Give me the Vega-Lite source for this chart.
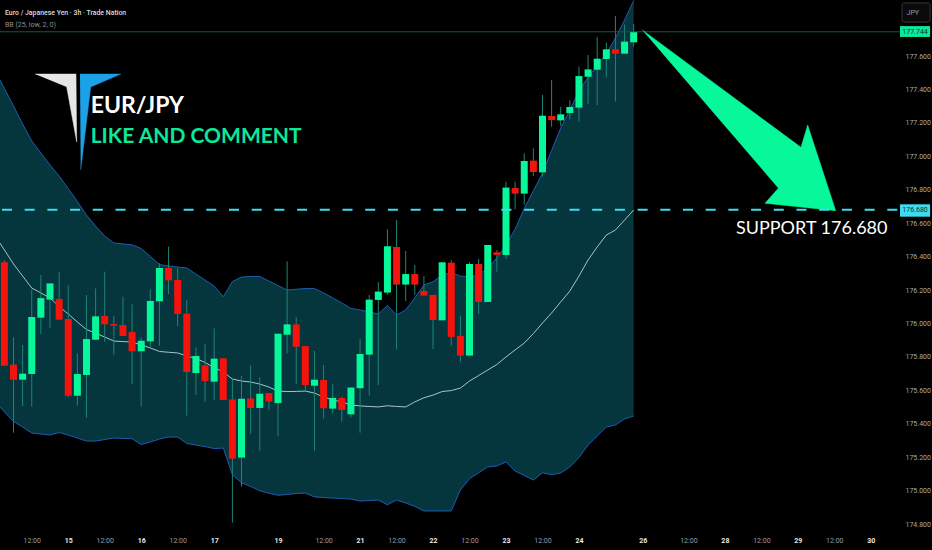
{
  "$schema": "https://vega.github.io/schema/vega-lite/v6.json",
  "description": "EUR/JPY 3h candlesticks with Bollinger bands and a support level",
  "width": 895,
  "height": 530,
  "autosize": "none",
  "padding": {"left": 0, "top": 0, "right": 37, "bottom": 20},
  "background": "#000000",
  "view": {"stroke": null},
  "config": {"font": "Roboto"},
  "datasets": {
    "candles": [
      {"i":0,"o":176.366,"h":176.380,"l":175.748,"c":175.748},
      {"i":1,"o":175.754,"h":175.917,"l":175.347,"c":175.664},
      {"i":2,"o":175.664,"h":175.871,"l":175.507,"c":175.700},
      {"i":3,"o":175.698,"h":176.204,"l":175.503,"c":176.039},
      {"i":4,"o":176.035,"h":176.290,"l":175.937,"c":176.152},
      {"i":5,"o":176.143,"h":176.240,"l":175.975,"c":176.240},
      {"i":6,"o":176.147,"h":176.310,"l":176.023,"c":176.023},
      {"i":7,"o":176.027,"h":176.226,"l":175.558,"c":175.568},
      {"i":8,"o":175.568,"h":175.822,"l":175.511,"c":175.698},
      {"i":9,"o":175.692,"h":176.170,"l":175.437,"c":175.907},
      {"i":10,"o":175.903,"h":176.210,"l":175.901,"c":176.043},
      {"i":11,"o":176.045,"h":176.310,"l":175.891,"c":175.995},
      {"i":12,"o":175.997,"h":176.045,"l":175.814,"c":175.987},
      {"i":13,"o":175.991,"h":176.160,"l":175.925,"c":175.925},
      {"i":14,"o":175.949,"h":176.115,"l":175.638,"c":175.834},
      {"i":15,"o":175.834,"h":175.917,"l":175.503,"c":175.897},
      {"i":16,"o":175.893,"h":176.204,"l":175.861,"c":176.135},
      {"i":17,"o":176.133,"h":176.360,"l":175.867,"c":176.332},
      {"i":18,"o":176.332,"h":176.460,"l":176.176,"c":176.258},
      {"i":19,"o":176.260,"h":176.330,"l":175.985,"c":176.057},
      {"i":20,"o":176.059,"h":176.141,"l":175.449,"c":175.710},
      {"i":21,"o":175.704,"h":175.857,"l":175.572,"c":175.806},
      {"i":22,"o":175.750,"h":175.877,"l":175.532,"c":175.656},
      {"i":23,"o":175.652,"h":175.971,"l":175.542,"c":175.790},
      {"i":24,"o":175.792,"h":175.792,"l":175.542,"c":175.542},
      {"i":25,"o":175.546,"h":175.662,"l":174.809,"c":175.192},
      {"i":26,"o":175.198,"h":175.686,"l":175.024,"c":175.550},
      {"i":27,"o":175.552,"h":175.748,"l":175.339,"c":175.495},
      {"i":28,"o":175.495,"h":175.678,"l":175.239,"c":175.580},
      {"i":29,"o":175.584,"h":175.584,"l":175.483,"c":175.534},
      {"i":30,"o":175.524,"h":175.939,"l":175.327,"c":175.939},
      {"i":31,"o":175.933,"h":176.372,"l":175.822,"c":175.995},
      {"i":32,"o":175.995,"h":176.037,"l":175.638,"c":175.861},
      {"i":33,"o":175.865,"h":175.865,"l":175.602,"c":175.632},
      {"i":34,"o":175.628,"h":175.835,"l":175.239,"c":175.664},
      {"i":35,"o":175.662,"h":175.752,"l":175.433,"c":175.493},
      {"i":36,"o":175.491,"h":175.639,"l":175.463,"c":175.555},
      {"i":37,"o":175.555,"h":175.563,"l":175.413,"c":175.483},
      {"i":38,"o":175.457,"h":175.617,"l":175.439,"c":175.617},
      {"i":39,"o":175.613,"h":175.906,"l":175.347,"c":175.818},
      {"i":40,"o":175.814,"h":176.171,"l":175.569,"c":176.143},
      {"i":41,"o":176.141,"h":176.247,"l":175.633,"c":176.191},
      {"i":42,"o":176.185,"h":176.564,"l":176.171,"c":176.462},
      {"i":43,"o":176.458,"h":176.619,"l":175.846,"c":176.233},
      {"i":44,"o":176.233,"h":176.434,"l":176.135,"c":176.296},
      {"i":45,"o":176.296,"h":176.350,"l":176.171,"c":176.233},
      {"i":46,"o":176.195,"h":176.284,"l":176.167,"c":176.167},
      {"i":47,"o":176.171,"h":176.171,"l":175.848,"c":176.021},
      {"i":48,"o":176.019,"h":176.366,"l":176.019,"c":176.366},
      {"i":49,"o":176.364,"h":176.380,"l":175.866,"c":175.920},
      {"i":50,"o":175.926,"h":176.045,"l":175.770,"c":175.808},
      {"i":51,"o":175.808,"h":176.366,"l":175.808,"c":176.356},
      {"i":52,"o":176.356,"h":176.386,"l":176.057,"c":176.129},
      {"i":53,"o":176.129,"h":176.470,"l":176.129,"c":176.470},
      {"i":54,"o":176.426,"h":176.440,"l":176.310,"c":176.410},
      {"i":55,"o":176.410,"h":176.848,"l":176.386,"c":176.813},
      {"i":56,"o":176.811,"h":176.848,"l":176.683,"c":176.777},
      {"i":57,"o":176.777,"h":177.018,"l":176.711,"c":176.972},
      {"i":58,"o":176.974,"h":177.048,"l":176.882,"c":176.906},
      {"i":59,"o":176.904,"h":177.367,"l":176.878,"c":177.243},
      {"i":60,"o":177.241,"h":177.457,"l":177.177,"c":177.217},
      {"i":61,"o":177.215,"h":177.297,"l":177.181,"c":177.251},
      {"i":62,"o":177.259,"h":177.337,"l":177.221,"c":177.295},
      {"i":63,"o":177.291,"h":177.536,"l":177.207,"c":177.480},
      {"i":64,"o":177.476,"h":177.606,"l":177.313,"c":177.520},
      {"i":65,"o":177.518,"h":177.712,"l":177.307,"c":177.584},
      {"i":66,"o":177.582,"h":177.680,"l":177.472,"c":177.640},
      {"i":67,"o":177.640,"h":177.839,"l":177.327,"c":177.614},
      {"i":68,"o":177.614,"h":177.789,"l":177.614,"c":177.686},
      {"i":69,"o":177.682,"h":177.791,"l":177.656,"c":177.744}
    ],
    "bands": [
      {"i":-1,"up":177.510,"mid":176.523,"lo":175.531},
      {"i":0,"up":177.406,"mid":176.440,"lo":175.471},
      {"i":1,"up":177.301,"mid":176.356,"lo":175.414},
      {"i":2,"up":177.193,"mid":176.284,"lo":175.381},
      {"i":3,"up":177.092,"mid":176.212,"lo":175.345},
      {"i":4,"up":177.020,"mid":176.183,"lo":175.339},
      {"i":5,"up":176.948,"mid":176.153,"lo":175.333},
      {"i":6,"up":176.882,"mid":176.102,"lo":175.348},
      {"i":7,"up":176.807,"mid":176.057,"lo":175.333},
      {"i":8,"up":176.730,"mid":176.009,"lo":175.315},
      {"i":9,"up":176.649,"mid":175.964,"lo":175.297},
      {"i":10,"up":176.583,"mid":175.943,"lo":175.297},
      {"i":11,"up":176.523,"mid":175.919,"lo":175.306},
      {"i":12,"up":176.482,"mid":175.895,"lo":175.315},
      {"i":13,"up":176.476,"mid":175.892,"lo":175.313},
      {"i":14,"up":176.470,"mid":175.889,"lo":175.311},
      {"i":15,"up":176.449,"mid":175.872,"lo":175.276},
      {"i":16,"up":176.401,"mid":175.854,"lo":175.291},
      {"i":17,"up":176.353,"mid":175.833,"lo":175.309},
      {"i":18,"up":176.344,"mid":175.828,"lo":175.321},
      {"i":19,"up":176.338,"mid":175.824,"lo":175.321},
      {"i":20,"up":176.332,"mid":175.806,"lo":175.282},
      {"i":21,"up":176.296,"mid":175.791,"lo":175.273},
      {"i":22,"up":176.260,"mid":175.767,"lo":175.264},
      {"i":23,"up":176.224,"mid":175.737,"lo":175.252},
      {"i":24,"up":176.160,"mid":175.710,"lo":175.255},
      {"i":25,"up":176.251,"mid":175.668,"lo":175.096},
      {"i":26,"up":176.278,"mid":175.656,"lo":175.047},
      {"i":27,"up":176.281,"mid":175.650,"lo":175.025},
      {"i":28,"up":176.281,"mid":175.638,"lo":175.000},
      {"i":29,"up":176.254,"mid":175.620,"lo":174.985},
      {"i":30,"up":176.227,"mid":175.596,"lo":174.973},
      {"i":31,"up":176.200,"mid":175.593,"lo":174.977},
      {"i":32,"up":176.205,"mid":175.594,"lo":174.984},
      {"i":33,"up":176.209,"mid":175.596,"lo":174.986},
      {"i":34,"up":176.209,"mid":175.584,"lo":174.963},
      {"i":35,"up":176.183,"mid":175.560,"lo":174.959},
      {"i":36,"up":176.153,"mid":175.543,"lo":174.956},
      {"i":37,"up":176.123,"mid":175.531,"lo":174.953},
      {"i":38,"up":176.090,"mid":175.513,"lo":174.950},
      {"i":39,"up":176.081,"mid":175.507,"lo":174.938},
      {"i":40,"up":176.069,"mid":175.504,"lo":174.941},
      {"i":41,"up":176.057,"mid":175.501,"lo":174.944},
      {"i":42,"up":176.108,"mid":175.508,"lo":174.916},
      {"i":43,"up":176.051,"mid":175.504,"lo":174.944},
      {"i":44,"up":176.081,"mid":175.501,"lo":174.927},
      {"i":45,"up":176.153,"mid":175.531,"lo":174.906},
      {"i":46,"up":176.230,"mid":175.556,"lo":174.879},
      {"i":47,"up":176.250,"mid":175.572,"lo":174.879},
      {"i":48,"up":176.290,"mid":175.593,"lo":174.879},
      {"i":49,"up":176.304,"mid":175.599,"lo":174.879},
      {"i":50,"up":176.284,"mid":175.614,"lo":175.004},
      {"i":51,"up":176.278,"mid":175.656,"lo":175.072},
      {"i":52,"up":176.290,"mid":175.689,"lo":175.107},
      {"i":53,"up":176.332,"mid":175.722,"lo":175.142},
      {"i":54,"up":176.392,"mid":175.755,"lo":175.148},
      {"i":55,"up":176.467,"mid":175.800,"lo":175.172},
      {"i":56,"up":176.565,"mid":175.842,"lo":175.118},
      {"i":57,"up":176.688,"mid":175.883,"lo":175.091},
      {"i":58,"up":176.793,"mid":175.940,"lo":175.064},
      {"i":59,"up":176.900,"mid":176.003,"lo":175.107},
      {"i":60,"up":177.035,"mid":176.063,"lo":175.096},
      {"i":61,"up":177.169,"mid":176.129,"lo":175.106},
      {"i":62,"up":177.277,"mid":176.194,"lo":175.142},
      {"i":63,"up":177.391,"mid":176.284,"lo":175.199},
      {"i":64,"up":177.474,"mid":176.380,"lo":175.273},
      {"i":65,"up":177.543,"mid":176.458,"lo":175.327},
      {"i":66,"up":177.612,"mid":176.529,"lo":175.381},
      {"i":67,"up":177.708,"mid":176.559,"lo":175.393},
      {"i":68,"up":177.815,"mid":176.619,"lo":175.429},
      {"i":69,"up":177.932,"mid":176.679,"lo":175.447}
    ],
    "logoWhite": [
      {"n":0,"i":3.355,"p":177.492},
      {"n":1,"i":7.851,"p":177.492},
      {"n":2,"i":7.928,"p":177.086},
      {"n":3,"i":6.831,"p":177.415}
    ],
    "logoBlue": [
      {"n":0,"i":8.289,"p":177.492},
      {"n":1,"i":12.752,"p":177.492},
      {"n":2,"i":9.463,"p":177.415},
      {"n":3,"i":8.366,"p":176.918}
    ],
    "arrow": [
      {"n":0,"i":69.945,"p":177.756},
      {"n":1,"i":87.346,"p":177.054},
      {"n":2,"i":88.081,"p":177.187},
      {"n":3,"i":91.151,"p":176.675},
      {"n":4,"i":83.399,"p":176.719},
      {"n":5,"i":84.858,"p":176.809}
    ]
  },
  "layer": [
    {
      "data": {"name": "bands"},
      "mark": {"type": "area", "color": "#05363d"},
      "encoding": {
        "x": {
          "field": "i",
          "type": "quantitative",
          "title": null,
          "scale": {"domain": [-0.482, 97.654], "nice": false, "zero": false, "padding": 0},
          "axis": {
            "grid": false,
            "domain": false,
            "ticks": false,
            "labelOverlap": false,
            "labelFlush": false,
            "labelFontSize": 7,
            "labelPadding": 6,
            "labelColor": {"condition": {"test": "indexof([3,11,19,35,43,51,59,75,83,91],datum.value)>=0", "value": "#9a9da3"}, "value": "#e8e8e8"},
            "labelFontWeight": {"condition": {"test": "indexof([3,11,19,35,43,51,59,75,83,91],datum.value)>=0", "value": "normal"}, "value": "bold"},
            "values": [3,7,11,15,19,23,30,35,39,43,47,51,55,59,63,70,75,79,83,87,91,95],
            "labelExpr": "['12:00','15','12:00','16','12:00','17','19','12:00','21','12:00','22','12:00','23','12:00','24','26','12:00','28','12:00','29','12:00','30'][indexof([3,7,11,15,19,23,30,35,39,43,47,51,55,59,63,70,75,79,83,87,91,95],datum.value)]"
          }
        },
        "y": {
          "field": "up",
          "type": "quantitative",
          "title": null,
          "scale": {"domain": [174.765, 177.935], "nice": false, "zero": false},
          "axis": {
            "orient": "right",
            "grid": false,
            "domain": false,
            "ticks": false,
            "labelOverlap": false,
            "tickCount": 16,
            "labelFontSize": 7,
            "labelPadding": 10,
            "labelColor": "#a8abb0",
            "format": ".3f",
            "values": [174.8,175,175.2,175.4,175.6,175.8,176,176.2,176.4,176.6,176.8,177,177.2,177.4,177.6]
          }
        },
        "y2": {"field": "lo"}
      }
    },
    {
      "data": {"name": "bands"},
      "mark": {"type": "line", "color": "#1f5bb0", "strokeWidth": 1},
      "encoding": {
        "x": {"field": "i", "type": "quantitative"},
        "y": {"field": "up", "type": "quantitative"}
      }
    },
    {
      "data": {"name": "bands"},
      "mark": {"type": "line", "color": "#1f5bb0", "strokeWidth": 1},
      "encoding": {
        "x": {"field": "i", "type": "quantitative"},
        "y": {"field": "lo", "type": "quantitative"}
      }
    },
    {
      "data": {"name": "bands"},
      "mark": {"type": "line", "color": "#a9c4c4", "strokeWidth": 1},
      "encoding": {
        "x": {"field": "i", "type": "quantitative"},
        "y": {"field": "mid", "type": "quantitative"}
      }
    },
    {
      "data": {"name": "candles"},
      "mark": {"type": "rule", "color": "#1e8577", "strokeWidth": 1},
      "encoding": {
        "x": {"field": "i", "type": "quantitative"},
        "y": {"field": "h", "type": "quantitative"},
        "y2": {"field": "l"}
      }
    },
    {
      "data": {"name": "candles"},
      "mark": {"type": "bar", "size": 7},
      "encoding": {
        "x": {"field": "i", "type": "quantitative"},
        "y": {"field": "o", "type": "quantitative"},
        "y2": {"field": "c"},
        "color": {"condition": {"test": "datum.c >= datum.o", "value": "#07f79b"}, "value": "#f5130d"}
      }
    },
    {
      "data": {"values": [{"level": 177.745}]},
      "mark": {"type": "rule", "color": "#0f5a49", "strokeWidth": 1},
      "encoding": {
        "x": {"datum": -0.482, "type": "quantitative"},
        "x2": {"datum": 98.2},
        "y": {"field": "level", "type": "quantitative"}
      }
    },
    {
      "data": {"name": "logoWhite"},
      "mark": {"type": "line", "fill": "#e6e6e6", "stroke": "#e6e6e6", "strokeWidth": 0.5},
      "encoding": {
        "x": {"field": "i", "type": "quantitative"},
        "y": {"field": "p", "type": "quantitative"},
        "order": {"field": "n"}
      }
    },
    {
      "data": {"name": "logoBlue"},
      "mark": {"type": "line", "fill": "#1ca0e8", "stroke": "#1ca0e8", "strokeWidth": 0.5},
      "encoding": {
        "x": {"field": "i", "type": "quantitative"},
        "y": {"field": "p", "type": "quantitative"},
        "order": {"field": "n"}
      }
    },
    {
      "data": {"name": "arrow"},
      "mark": {"type": "line", "fill": "#07f79b", "stroke": "#07f79b", "strokeWidth": 0.5},
      "encoding": {
        "x": {"field": "i", "type": "quantitative"},
        "y": {"field": "p", "type": "quantitative"},
        "order": {"field": "n"}
      }
    },
    {
      "data": {"values": [{"level": 176.68}]},
      "mark": {"type": "rule", "color": "#3fdcf0", "strokeWidth": 2, "strokeDash": [10, 12.7], "strokeDashOffset": -2},
      "encoding": {
        "x": {"datum": -0.482, "type": "quantitative"},
        "x2": {"datum": 98.2},
        "y": {"field": "level", "type": "quantitative"}
      }
    },
    {
      "data": {"values": [{"top": 177.779, "bot": 177.714}]},
      "mark": {"type": "rect", "color": "#0ce89a"},
      "encoding": {
        "x": {"datum": 98.2, "type": "quantitative"},
        "x2": {"datum": 101.5},
        "y": {"field": "top", "type": "quantitative"},
        "y2": {"field": "bot"}
      }
    },
    {
      "data": {"values": [{"top": 176.713, "bot": 176.639}]},
      "mark": {"type": "rect", "color": "#3fdcf0"},
      "encoding": {
        "x": {"datum": 98.2, "type": "quantitative"},
        "x2": {"datum": 101.5},
        "y": {"field": "top", "type": "quantitative"},
        "y2": {"field": "bot"}
      }
    },
    {
      "data": {"values": [{"top": 177.917, "bot": 177.803}]},
      "mark": {"type": "rect", "fill": "#0b0b0b", "stroke": "#363636", "strokeWidth": 1, "cornerRadius": 2},
      "encoding": {
        "x": {"datum": 98.42, "type": "quantitative"},
        "x2": {"datum": 101.5},
        "y": {"field": "top", "type": "quantitative"},
        "y2": {"field": "bot"}
      }
    },
    {
      "data": {"values": [{"label": "177.744", "p": 177.744}, {"label": "176.680", "p": 176.68}]},
      "mark": {"type": "text", "color": "#07323a", "fontSize": 7, "align": "center", "baseline": "middle"},
      "encoding": {
        "x": {"datum": 99.85, "type": "quantitative"},
        "y": {"field": "p", "type": "quantitative"},
        "text": {"field": "label"}
      }
    },
    {
      "data": {"values": [{"label": "JPY", "p": 177.86}]},
      "mark": {"type": "text", "color": "#9a9da3", "fontSize": 7, "align": "center", "baseline": "middle"},
      "encoding": {
        "x": {"datum": 99.6, "type": "quantitative"},
        "y": {"field": "p", "type": "quantitative"},
        "text": {"field": "label"}
      }
    },
    {
      "data": {"values": [{"label": "Euro / Japanese Yen · 3h · Trade Nation", "p": 177.86}]},
      "mark": {"type": "text", "color": "#dcdcdc", "fontSize": 6.9, "fontWeight": 500, "align": "left", "baseline": "middle"},
      "encoding": {
        "x": {"datum": 0.066, "type": "quantitative"},
        "y": {"field": "p", "type": "quantitative"},
        "text": {"field": "label"}
      }
    },
    {
      "data": {"values": [{"label": "BB (25, low, 2, 0)", "p": 177.785}]},
      "mark": {"type": "text", "color": "#8c8f94", "fontSize": 7, "align": "left", "baseline": "middle"},
      "encoding": {
        "x": {"datum": 0.066, "type": "quantitative"},
        "y": {"field": "p", "type": "quantitative"},
        "text": {"field": "label"}
      }
    },
    {
      "data": {"values": [{"label": "EUR/JPY", "p": 177.303}]},
      "mark": {"type": "text", "color": "#ffffff", "font": "Lato", "fontSize": 23, "fontWeight": "bold", "align": "left", "baseline": "middle"},
      "encoding": {
        "x": {"datum": 9.463, "type": "quantitative"},
        "y": {"field": "p", "type": "quantitative"},
        "text": {"field": "label"}
      }
    },
    {
      "data": {"values": [{"label": "LIKE AND COMMENT", "p": 177.116}]},
      "mark": {"type": "text", "color": "#0ce89a", "font": "Lato", "fontSize": 21, "fontWeight": "bold", "align": "left", "baseline": "middle"},
      "encoding": {
        "x": {"datum": 9.463, "type": "quantitative"},
        "y": {"field": "p", "type": "quantitative"},
        "text": {"field": "label"}
      }
    },
    {
      "data": {"values": [{"label": "SUPPORT 176.680", "p": 176.565}]},
      "mark": {"type": "text", "color": "#ffffff", "font": "Lato", "fontSize": 18, "align": "left", "baseline": "middle"},
      "encoding": {
        "x": {"datum": 80.22, "type": "quantitative"},
        "y": {"field": "p", "type": "quantitative"},
        "text": {"field": "label"}
      }
    }
  ]
}
